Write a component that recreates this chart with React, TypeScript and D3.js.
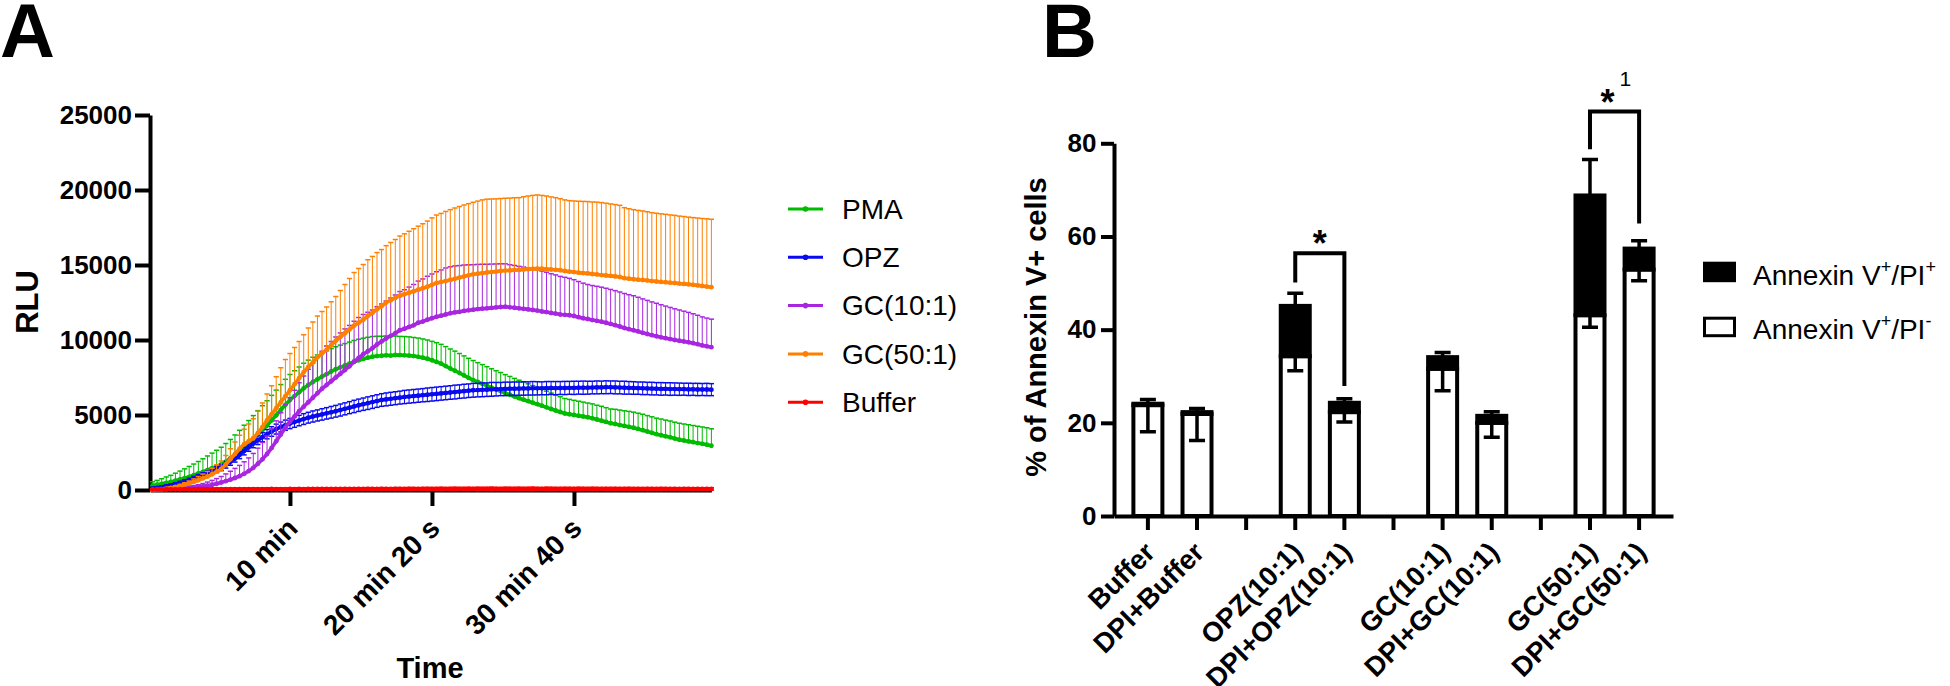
import React, { useEffect, useRef } from 'react';
import * as d3 from 'd3';

const FONT = "'Liberation Sans', Arial, Helvetica, sans-serif";

// ---------- Panel A: kinetics, one reading every 20 s ----------
const SAMPLE_STEP_S = 20;
const timeTicks = [600, 1220, 1840];
const timeTickLabels = ['10 min', '20 min 20 s', '30 min 40 s'];
const rluTicks = [0, 5000, 10000, 15000, 20000, 25000];

const pmaMean = [
  300, 350, 410, 480, 540, 620, 700, 790, 880, 990,
  1100, 1210, 1330, 1450, 1570, 1700, 1890, 2100, 2340, 2590,
  2870, 3140, 3420, 3710, 4000, 4300, 4640, 4980, 5330, 5680,
  6000, 6260, 6520, 6780, 7000, 7200, 7380, 7560, 7720, 7900,
  8050, 8180, 8300, 8420, 8550, 8650, 8740, 8820, 8890, 8930,
  8950, 8980, 8960, 9000, 8990, 8980, 8960, 8930, 8880, 8820,
  8750, 8650, 8540, 8420, 8260, 8100, 7950, 7800, 7640, 7480,
  7330, 7200, 7080, 6950, 6820, 6700, 6590, 6460, 6350, 6230,
  6120, 6020, 5920, 5820, 5720, 5620, 5510, 5400, 5300, 5200,
  5100, 5050, 5000, 4950, 4900, 4850, 4780, 4700, 4620, 4540,
  4450, 4400, 4330, 4270, 4210, 4150, 4070, 3990, 3900, 3810,
  3720, 3650, 3580, 3510, 3430, 3350, 3300, 3240, 3190, 3130,
  3080, 3020, 2950,
];
const pmaSd = [
  250, 290, 340, 390, 440, 500, 560, 620, 690, 740,
  800, 870, 940, 1010, 1080, 1150, 1210, 1270, 1330, 1390,
  1450, 1490, 1540, 1580, 1620, 1650, 1670, 1680, 1700, 1700,
  1700, 1690, 1680, 1670, 1660, 1650, 1620, 1590, 1560, 1530,
  1500, 1480, 1460, 1440, 1420, 1400, 1380, 1360, 1340, 1320,
  1300, 1290, 1280, 1260, 1250, 1250, 1250, 1240, 1250, 1250,
  1250, 1260, 1280, 1290, 1300, 1300, 1310, 1300, 1300, 1300,
  1300, 1290, 1280, 1270, 1260, 1250, 1240, 1230, 1220, 1210,
  1200, 1180, 1160, 1140, 1120, 1100, 1080, 1060, 1040, 1020,
  1000, 990, 980, 970, 960, 950, 960, 950, 960, 950,
  950, 980, 1000, 1010, 1030, 1040, 1050, 1060, 1060, 1070,
  1070, 1080, 1080, 1090, 1090, 1100, 1100, 1110, 1110, 1120,
  1120, 1130, 1130,
];
const opzMean = [
  100, 140, 190, 250, 310, 380, 460, 550, 650, 760,
  870, 980, 1100, 1230, 1360, 1500, 1680, 1880, 2100, 2340,
  2600, 2850, 3100, 3320, 3520, 3720, 3900, 4060, 4200, 4320,
  4430, 4530, 4630, 4730, 4820, 4900, 4970, 5040, 5110, 5180,
  5250, 5330, 5410, 5490, 5570, 5650, 5720, 5790, 5860, 5930,
  6000, 6040, 6080, 6120, 6160, 6200, 6230, 6260, 6290, 6320,
  6350, 6380, 6410, 6440, 6470, 6500, 6530, 6560, 6590, 6620,
  6650, 6660, 6680, 6690, 6710, 6720, 6730, 6740, 6750, 6750,
  6760, 6770, 6770, 6780, 6780, 6780, 6790, 6800, 6790, 6800,
  6800, 6810, 6810, 6820, 6820, 6820, 6830, 6840, 6840, 6850,
  6850, 6840, 6830, 6820, 6810, 6800, 6790, 6780, 6770, 6760,
  6750, 6740, 6740, 6730, 6730, 6720, 6720, 6710, 6710, 6700,
  6700, 6700, 6690,
];
const opzSd = [
  60, 70, 80, 90, 100, 110, 120, 130, 140, 150,
  160, 170, 180, 190, 200, 210, 220, 230, 240, 250,
  260, 270, 280, 290, 300, 310, 320, 330, 330, 340,
  340, 350, 350, 360, 360, 370, 370, 380, 380, 390,
  390, 400, 400, 400, 410, 410, 410, 420, 420, 420,
  420, 430, 430, 430, 430, 440, 440, 440, 440, 440,
  450, 450, 450, 450, 450, 450, 460, 450, 460, 450,
  460, 450, 460, 450, 460, 450, 440, 450, 440, 450,
  440, 450, 440, 450, 440, 430, 440, 430, 440, 430,
  440, 430, 440, 430, 440, 430, 420, 430, 420, 430,
  420, 430, 420, 430, 420, 420, 410, 420, 410, 420,
  410, 420, 410, 420, 410, 410, 400, 410, 400, 410,
  400, 410, 400,
];
const gc10Mean = [
  0, 10, 20, 40, 60, 80, 100, 120, 150, 170,
  200, 240, 290, 350, 420, 500, 590, 690, 800, 920,
  1080, 1260, 1480, 1750, 2050, 2400, 2800, 3250, 3700, 4150,
  4550, 4900, 5250, 5550, 5850, 6150, 6450, 6750, 7000, 7250,
  7500, 7750, 8000, 8250, 8550, 8800, 9050, 9250, 9450, 9700,
  9900, 10100, 10280, 10450, 10650, 10750, 10870, 10980, 11150, 11230,
  11350, 11450, 11550, 11620, 11700, 11780, 11840, 11880, 11940, 11980,
  12020, 12060, 12090, 12110, 12140, 12170, 12200, 12220, 12180, 12150,
  12110, 12080, 12040, 12000, 11960, 11900, 11860, 11800, 11760, 11700,
  11680, 11650, 11600, 11520, 11450, 11400, 11330, 11280, 11220, 11150,
  11070, 10990, 10900, 10800, 10720, 10650, 10570, 10480, 10400, 10320,
  10250, 10180, 10120, 10060, 10000, 9950, 9900, 9850, 9790, 9720,
  9640, 9580, 9520,
];
const gc10Sd = [
  0, 10, 20, 30, 40, 50, 70, 90, 110, 130,
  150, 190, 240, 290, 340, 400, 480, 560, 640, 720,
  800, 880, 960, 1040, 1120, 1200, 1280, 1360, 1450, 1530,
  1600, 1750, 1900, 2050, 2200, 2300, 2400, 2500, 2600, 2650,
  2700, 2720, 2740, 2720, 2700, 2700, 2650, 2600, 2550, 2520,
  2500, 2500, 2520, 2550, 2580, 2600, 2660, 2720, 2780, 2840,
  2900, 2950, 3000, 3050, 3100, 3100, 3100, 3080, 3060, 3030,
  3000, 2980, 2960, 2940, 2920, 2900, 2880, 2860, 2840, 2820,
  2800, 2780, 2760, 2740, 2720, 2700, 2660, 2620, 2580, 2540,
  2500, 2460, 2420, 2380, 2340, 2300, 2300, 2300, 2300, 2300,
  2300, 2300, 2300, 2300, 2300, 2300, 2280, 2260, 2240, 2220,
  2200, 2170, 2140, 2110, 2080, 2050, 2020, 1990, 1960, 1930,
  1900, 1880, 1870,
];
const gc50Mean = [
  0, 20, 50, 90, 140, 200, 270, 350, 440, 540,
  650, 770, 900, 1050, 1220, 1400, 1700, 2050, 2400, 2750,
  3050, 3250, 3450, 3800, 4200, 4650, 5050, 5450, 5850, 6250,
  6650, 7050, 7450, 7850, 8200, 8500, 8850, 9100, 9350, 9650,
  9950, 10200, 10450, 10700, 10950, 11150, 11350, 11600, 11800, 12050,
  12250, 12500, 12650, 12800, 12950, 13050, 13150, 13250, 13350, 13450,
  13550, 13680, 13800, 13860, 13930, 14000, 14080, 14160, 14240, 14310,
  14380, 14420, 14460, 14500, 14530, 14560, 14600, 14630, 14640, 14660,
  14670, 14700, 14720, 14740, 14760, 14750, 14730, 14700, 14680, 14650,
  14600, 14560, 14530, 14490, 14460, 14440, 14400, 14370, 14330, 14300,
  14270, 14240, 14200, 14120, 14090, 14050, 14020, 14000, 13970, 13930,
  13900, 13870, 13850, 13820, 13800, 13760, 13740, 13710, 13680, 13640,
  13600, 13560, 13520,
];
const gc50Sd = [
  0, 10, 20, 40, 60, 80, 100, 130, 160, 200,
  240, 290, 340, 400, 460, 530, 600, 700, 800, 900,
  1000, 1150, 1300, 1450, 1600, 1750, 1900, 2100, 2300, 2450,
  2450, 2450, 2450, 2500, 2600, 2700, 2750, 2800, 2850, 2900,
  2950, 3100, 3250, 3400, 3550, 3620, 3680, 3750, 3770, 3780,
  3780, 3790, 3850, 3900, 3980, 4030, 4100, 4170, 4240, 4300,
  4380, 4460, 4530, 4580, 4640, 4690, 4720, 4740, 4760, 4780,
  4800, 4840, 4880, 4890, 4870, 4850, 4830, 4820, 4820, 4820,
  4820, 4850, 4880, 4900, 4910, 4890, 4870, 4840, 4810, 4770,
  4740, 4730, 4740, 4760, 4780, 4790, 4800, 4820, 4830, 4820,
  4800, 4790, 4780, 4700, 4660, 4640, 4620, 4600, 4580, 4560,
  4550, 4540, 4530, 4520, 4510, 4500, 4490, 4480, 4480, 4490,
  4500, 4520, 4530,
];
const bufferMean = [
  30, 35, 40, 42, 45, 48, 50, 52, 50, 55,
  55, 58, 56, 60, 58, 60, 62, 60, 63, 61,
  62, 64, 60, 65, 63, 62, 66, 64, 65, 63,
  66, 64, 67, 65, 68, 66, 70, 68, 66, 69,
  70, 68, 72, 70, 69, 72, 70, 73, 71, 70,
  74, 72, 70, 73, 75, 72, 74, 76, 73, 75,
  74, 76, 73, 77, 75, 74, 76, 78, 75, 77,
  76, 74, 77, 75, 78, 76, 74, 77, 76, 75,
  77, 74, 76, 78, 75, 74, 77, 75, 73, 76,
  75, 77, 74, 72, 75, 74, 76, 73, 75, 72,
  74, 73, 75, 72, 74, 73, 71, 74, 72, 73,
  71, 74, 72, 73, 70, 72, 71, 73, 70, 72,
  71, 70, 72,
];
const bufferSd = [
  10, 15, 20, 20, 25, 25, 30, 30, 35, 35,
  40, 40, 45, 40, 50, 45, 50, 55, 50, 55,
  60, 55, 60, 65, 60, 70, 65, 60, 70, 65,
  70, 75, 70, 65, 75, 80, 70, 75, 80, 75,
  80, 75, 85, 80, 75, 85, 80, 90, 85, 80,
  90, 85, 80, 95, 90, 85, 100, 90, 85, 95,
  100, 90, 95, 105, 90, 100, 110, 95, 100, 105,
  95, 110, 100, 105, 115, 100, 95, 110, 105, 100,
  110, 100, 105, 115, 100, 95, 110, 105, 100, 95,
  105, 100, 95, 110, 100, 95, 105, 100, 90, 100,
  95, 100, 90, 95, 100, 90, 95, 85, 95, 90,
  85, 95, 90, 85, 90, 80, 90, 85, 80, 85,
  80, 85, 80,
];

const seriesNames = ['PMA', 'OPZ', 'GC(10:1)', 'GC(50:1)', 'Buffer'];
const seriesColors = ['#00bb00', '#0a0af0', '#a826e0', '#ff8000', '#ff0000'];
const seriesMeans = [pmaMean, opzMean, gc10Mean, gc50Mean, bufferMean];
const seriesSds = [pmaSd, opzSd, gc10Sd, gc50Sd, bufferSd];
// OPZ error bars are drawn both ways, the others above the mean only
const seriesBothWays = [false, true, false, false, true];

// ---------- Panel B: Annexin V staining ----------
const barGroups = ['Buffer', 'DPI+Buffer', 'OPZ(10:1)', 'DPI+OPZ(10:1)', 'GC(10:1)', 'DPI+GC(10:1)', 'GC(50:1)', 'DPI+GC(50:1)'];
const barSlots = ['Buffer', 'DPI+Buffer', 'gap1', 'OPZ(10:1)', 'DPI+OPZ(10:1)', 'gap2', 'GC(10:1)', 'DPI+GC(10:1)', 'gap3', 'GC(50:1)', 'DPI+GC(50:1)'];
const piNeg = [23.8, 21.9, 34.3, 22.3, 31.6, 20.0, 43.1, 52.9];
const piNegSd = [5.7, 5.7, 3.1, 2.1, 4.7, 3.1, 2.6, 2.4];
const piPos = [0.3, 0.4, 10.8, 2.0, 2.5, 1.5, 25.7, 4.5];
const totalSd = [0.9, 0.8, 2.7, 0.85, 1.0, 0.9, 7.7, 1.7];
const annexinTicks = [0, 20, 40, 60, 80];
const comparisons = [
  { from: 'OPZ(10:1)', to: 'DPI+OPZ(10:1)', top: 56.4, leftEnd: 50.1, rightEnd: 27.9, label: '*', sup: '' },
  { from: 'GC(50:1)', to: 'DPI+GC(50:1)', top: 86.8, leftEnd: 78.7, rightEnd: 62.8, label: '*', sup: '1' },
];

function styleAxis(ax: any, size: number) {
  ax.attr('font-family', FONT).attr('font-size', size).attr('font-weight', 'bold');
  ax.select('.domain').attr('stroke', '#000').attr('stroke-width', 4);
  ax.selectAll('.tick line').attr('stroke', '#000').attr('stroke-width', 4);
  ax.selectAll('.tick text').attr('fill', '#000');
}

function drawKinetics(g: any) {
  const x = d3.scaleLinear().domain([-11, 2440]).range([150, 711.4]);
  const y = d3.scaleLinear().domain([0, 25000]).range([490, 115]);

  g.append('text').attr('x', 0).attr('y', 57).attr('font-size', 76).attr('font-weight', 'bold').text('A');

  const yAxis = g.append('g').attr('transform', 'translate(150,0)')
    .call(d3.axisLeft(y).tickValues(rluTicks).tickSize(15).tickPadding(3).tickSizeOuter(0).tickFormat(d3.format('d')));
  styleAxis(yAxis, 26);

  const xAxis = g.append('g').attr('transform', 'translate(0,490)')
    .call(d3.axisBottom(x).tickValues(timeTicks).tickSize(16).tickSizeOuter(0)
      .tickFormat((d: any, i: number) => timeTickLabels[i]));
  styleAxis(xAxis, 28);
  xAxis.selectAll('.tick text')
    .attr('x', 0).attr('y', 0).attr('dy', '0.35em')
    .attr('text-anchor', 'end')
    .attr('transform', 'translate(2,33) rotate(-45)');

  g.append('text').attr('x', 430).attr('y', 678).attr('text-anchor', 'middle')
    .attr('font-size', 29).attr('font-weight', 'bold').text('Time');
  g.append('text').attr('transform', 'translate(38,302) rotate(-90)').attr('text-anchor', 'middle')
    .attr('font-size', 31).attr('font-weight', 'bold').text('RLU');

  const line = d3.line<any>().x((d) => x(d.t)).y((d) => y(d.m));

  seriesNames.forEach((name, si) => {
    const color = seriesColors[si];
    const both = seriesBothWays[si];
    const pts = seriesMeans[si].map((m, i) => ({ t: i * SAMPLE_STEP_S, m, sd: seriesSds[si][i] }));
    const sg = g.append('g');
    sg.append('g').attr('stroke', color).attr('stroke-width', 1)
      .selectAll('line').data(pts).join('line')
      .attr('x1', (d: any) => x(d.t)).attr('x2', (d: any) => x(d.t))
      .attr('y1', (d: any) => y(both ? d.m - d.sd : d.m)).attr('y2', (d: any) => y(d.m + d.sd));
    const caps = both ? pts.flatMap((d: any) => [d.m + d.sd, d.m - d.sd].map((v) => ({ t: d.t, v })))
      : pts.map((d: any) => ({ t: d.t, v: d.m + d.sd }));
    sg.append('g').attr('stroke', color).attr('stroke-width', 1.5)
      .selectAll('line').data(caps).join('line')
      .attr('x1', (d: any) => x(d.t) - 2.6).attr('x2', (d: any) => x(d.t) + 2.6)
      .attr('y1', (d: any) => y(d.v)).attr('y2', (d: any) => y(d.v));
    sg.append('path').datum(pts).attr('fill', 'none').attr('stroke', color)
      .attr('stroke-width', 3.6).attr('d', line);
    sg.append('g').attr('fill', color).selectAll('circle').data(pts).join('circle')
      .attr('cx', (d: any) => x(d.t)).attr('cy', (d: any) => y(d.m)).attr('r', 2.4);
  });

  // legend
  const lg = g.append('g').attr('font-size', 28);
  seriesNames.forEach((name, i) => {
    const yy = 209 + i * 48.3;
    lg.append('line').attr('x1', 788).attr('x2', 823).attr('y1', yy).attr('y2', yy)
      .attr('stroke', seriesColors[i]).attr('stroke-width', 3);
    lg.append('circle').attr('cx', 805.5).attr('cy', yy).attr('r', 2.8).attr('fill', seriesColors[i]);
    lg.append('text').attr('x', 842).attr('y', yy).attr('dy', '0.35em').text(name);
  });
}

function drawAnnexin(g: any) {
  const x = d3.scaleBand().domain(barSlots).range([1114, 1673]).paddingInner(0).paddingOuter(0.19);
  const y = d3.scaleLinear().domain([0, 80]).range([516, 143.3]);
  const cx = (k: string) => (x(k) as number) + x.bandwidth() / 2;
  const barW = 29;

  g.append('text').attr('x', 1042).attr('y', 57).attr('font-size', 76).attr('font-weight', 'bold').text('B');

  const bars = barGroups.map((k, i) => ({
    k, neg: piNeg[i], negSd: piNegSd[i], total: piNeg[i] + piPos[i], totSd: totalSd[i],
  }));

  const bg = g.append('g').attr('stroke', '#000').attr('stroke-width', 4);
  bg.selectAll('rect.neg').data(bars).join('rect').attr('class', 'neg')
    .attr('x', (d: any) => cx(d.k) - barW / 2).attr('width', barW)
    .attr('y', (d: any) => y(d.neg)).attr('height', (d: any) => y(0) - y(d.neg))
    .attr('fill', '#fff');
  bg.selectAll('rect.pos').data(bars).join('rect').attr('class', 'pos')
    .attr('x', (d: any) => cx(d.k) - barW / 2).attr('width', barW)
    .attr('y', (d: any) => y(d.total)).attr('height', (d: any) => y(d.neg) - y(d.total))
    .attr('fill', '#000');

  const eg = g.append('g').attr('stroke', '#000').attr('stroke-width', 3.5).attr('fill', 'none');
  bars.forEach((d) => {
    const c = cx(d.k);
    const lo = y(d.neg - d.negSd);
    eg.append('path').attr('d', `M${c},${y(d.neg)}V${lo}M${c - 8},${lo}H${c + 8}`);
    const hi = y(d.total + d.totSd);
    eg.append('path').attr('d', `M${c},${y(d.total)}V${hi}M${c - 8},${hi}H${c + 8}`);
  });

  const yAxis = g.append('g').attr('transform', 'translate(1114,0)')
    .call(d3.axisLeft(y).tickValues(annexinTicks).tickSize(13).tickPadding(4.5).tickSizeOuter(0));
  styleAxis(yAxis, 26);

  const xAxis = g.append('g').attr('transform', 'translate(0,516)')
    .call(d3.axisBottom(x).tickSize(14).tickSizeOuter(0)
      .tickFormat((d: string) => (d.startsWith('gap') ? '' : d)));
  styleAxis(xAxis, 27.5);
  xAxis.selectAll('.tick text')
    .attr('x', 0).attr('y', 0).attr('dy', '0.35em')
    .attr('text-anchor', 'end')
    .attr('transform', 'translate(2,31) rotate(-45)');

  g.append('text').attr('transform', 'translate(1046,327) rotate(-90)').attr('text-anchor', 'middle')
    .attr('font-size', 29).attr('font-weight', 'bold').text('% of Annexin V+ cells');

  comparisons.forEach((c) => {
    const x1 = cx(c.from);
    const x2 = cx(c.to);
    g.append('path').attr('fill', 'none').attr('stroke', '#000').attr('stroke-width', 4)
      .attr('d', `M${x1},${y(c.leftEnd)}V${y(c.top)}H${x2}V${y(c.rightEnd)}`);
    const mid = (x1 + x2) / 2 - (c.sup ? 7 : 0);
    const base = y(c.top) + 3;
    g.append('text').attr('x', mid).attr('y', base).attr('text-anchor', 'middle')
      .attr('font-size', 36).attr('font-weight', 'bold').text(c.label);
    if (c.sup) {
      g.append('text').attr('x', mid + 12).attr('y', base - 29)
        .attr('font-size', 21).text(c.sup);
    }
  });

  // legend
  const lg = g.append('g').attr('font-size', 28);
  const legendRows = [
    { fill: '#000', sup2: '+' },
    { fill: '#fff', sup2: '-' },
  ];
  legendRows.forEach((r, i) => {
    const top = 263.2 + i * 55;
    lg.append('rect').attr('x', 1704.5).attr('y', top).attr('width', 30).attr('height', 17.5)
      .attr('fill', r.fill).attr('stroke', '#000').attr('stroke-width', 3);
    const t = lg.append('text').attr('x', 1753).attr('y', 285 + i * 53.5);
    t.append('tspan').text('Annexin V');
    t.append('tspan').attr('font-size', 18).attr('dy', -12).text('+');
    t.append('tspan').attr('dy', 12).text('/PI');
    t.append('tspan').attr('font-size', 18).attr('dy', -12).text(r.sup2);
  });
}

export default function App() {
  const ref = useRef<SVGSVGElement>(null);

  useEffect(() => {
    const svg = d3.select(ref.current);
    svg.selectAll('*').remove();
    drawKinetics(svg.append('g'));
    drawAnnexin(svg.append('g'));
  }, []);

  return (
    <svg
      ref={ref}
      width={1950}
      height={686}
      fontFamily={FONT}
      style={{ position: 'absolute', left: 0, top: 0, background: '#fff' }}
    />
  );
}
